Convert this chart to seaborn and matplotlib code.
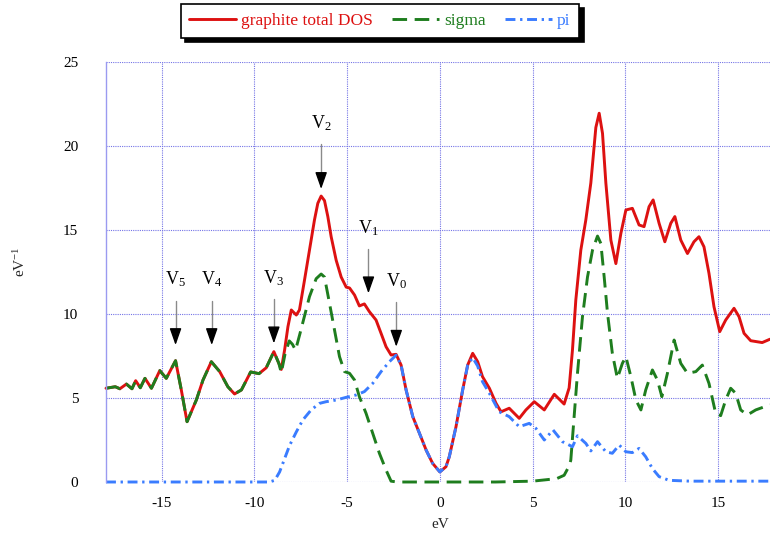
import matplotlib
matplotlib.use("Agg")
import matplotlib.pyplot as plt
import seaborn as sns
import numpy as np

# ---------------- data ----------------
total_e = [-18.0, -17.5, -17.25, -16.9, -16.6, -16.4, -16.15, -15.9, -15.55, -15.1,
           -14.75, -14.25, -13.94, -13.63, -13.13, -12.77, -12.32, -11.87, -11.43, -11.07,
           -10.7, -10.2, -9.75, -9.36, -8.95, -8.68, -8.55, -8.37, -8.19, -8.01,
           -7.74, -7.57, -7.3, -7.03, -6.76, -6.58, -6.4, -6.22, -6.04, -5.86,
           -5.59, -5.32, -5.05, -4.87, -4.6, -4.34, -4.07, -3.8, -3.44, -3.17,
           -2.9, -2.63, -2.36, -2.09, -1.82, -1.46, -1.1, -0.74, -0.39, 0.0,
           0.33, 0.51, 0.87, 1.23, 1.5, 1.77, 2.04, 2.3, 2.67, 3.03,
           3.3, 3.74, 4.28, 4.64, 5.09, 5.63, 6.17, 6.7, 6.97, 7.15,
           7.33, 7.6, 7.87, 8.14, 8.41, 8.59, 8.77, 8.95, 9.22, 9.49,
           9.76, 10.03, 10.38, 10.74, 11.01, 11.28, 11.5, 11.82, 12.13, 12.45,
           12.67, 12.99, 13.35, 13.7, 13.97, 14.24, 14.51, 14.78, 15.09, 15.41,
           15.86, 16.13, 16.4, 16.76, 17.38, 17.8]
total_dos = [5.58, 5.67, 5.55, 5.83, 5.55, 6.03, 5.61, 6.17, 5.58, 6.63,
             6.17, 7.22, 5.48, 3.59, 4.88, 6.07, 7.16, 6.57, 5.67, 5.24,
             5.48, 6.55, 6.45, 6.8, 7.76, 7.06, 6.7, 7.86, 9.25, 10.24,
             9.94, 10.24, 12.0, 13.8, 15.6, 16.59, 17.02, 16.75, 15.8, 14.6,
             13.2, 12.2, 11.6, 11.55, 11.13, 10.48, 10.6, 10.14, 9.64, 8.85,
             8.05, 7.56, 7.6, 6.96, 5.48, 3.89, 2.9, 1.9, 1.11, 0.6,
             0.91, 1.51, 3.29, 5.48, 6.96, 7.66, 7.16, 6.27, 5.58, 4.68,
             4.18, 4.39, 3.79, 4.29, 4.78, 4.29, 5.22, 4.64, 5.6, 7.86,
             10.83, 13.8, 15.6, 17.8, 21.1, 21.95, 20.75, 17.8, 14.4, 13.0,
             14.8, 16.19, 16.29, 15.3, 15.2, 16.39, 16.79, 15.4, 14.3, 15.4,
             15.8, 14.4, 13.6, 14.3, 14.6, 14.0, 12.42, 10.43, 8.95, 9.64,
             10.34, 9.84, 8.85, 8.41, 8.3, 8.5]

sigma_e = [-18.0, -17.5, -17.25, -16.9, -16.6, -16.4, -16.15, -15.9, -15.55, -15.1,
           -14.75, -14.25, -13.94, -13.63, -13.13, -12.77, -12.32, -11.87, -11.43, -11.07,
           -10.7, -10.2, -9.75, -9.36, -8.95, -8.68, -8.55, -8.35, -8.12, -7.95,
           -7.78, -7.55, -7.4, -7.03, -6.67, -6.4, -6.22, -5.95, -5.68, -5.41,
           -5.14, -4.87, -4.6, -4.34, -3.98, -3.62, -3.26, -2.9, -2.63, -2.3,
           0.0, 3.0, 5.0, 6.3, 6.7, 6.97, 7.06, 7.15, 7.24, 7.42,
           7.69, 7.96, 8.23, 8.5, 8.68, 8.86, 9.04, 9.3, 9.57, 9.84,
           10.03, 10.3, 10.57, 10.84, 11.1, 11.46, 11.73, 11.97, 12.27, 12.63,
           12.99, 13.35, 13.8, 14.15, 14.51, 14.87, 15.14, 15.41, 15.68, 15.95,
           16.22, 16.58, 17.03, 17.8]
sigma_dos = [5.58, 5.67, 5.55, 5.83, 5.55, 6.03, 5.61, 6.17, 5.58, 6.63,
             6.17, 7.22, 5.48, 3.59, 4.88, 6.07, 7.16, 6.57, 5.67, 5.24,
             5.48, 6.55, 6.45, 6.8, 7.76, 7.06, 6.5, 7.6, 8.4, 8.2,
             7.85, 8.8, 9.44, 11.03, 12.1, 12.38, 12.2, 10.64, 9.05, 7.46,
             6.57, 6.47, 6.07, 5.08, 4.09, 2.9, 1.71, 0.71, 0.05, 0.0,
             0.0, 0.0, 0.05, 0.2, 0.4, 0.95, 1.3, 2.6, 3.9, 6.47,
             9.84, 12.2, 13.8, 14.64, 14.2, 12.2, 10.04, 7.66, 6.17, 7.06,
             7.46, 6.27, 4.88, 4.29, 5.48, 6.67, 6.07, 5.08, 6.47, 8.45,
             7.06, 6.47, 6.57, 6.96, 5.87, 4.09, 3.95, 4.88, 5.58, 5.28,
             4.29, 3.99, 4.29, 4.6]

pi_e = [-18.0, -9.2, -8.9, -8.64, -8.37, -8.1, -7.74, -7.39, -6.94, -6.49,
        -6.13, -5.59, -5.05, -4.51, -4.07, -3.62, -3.17, -2.72, -2.36, -2.09,
        -1.82, -1.46, -1.1, -0.74, -0.39, 0.0, 0.33, 0.51, 0.87, 1.23,
        1.5, 1.77, 2.04, 2.3, 2.67, 3.2, 3.74, 4.28, 4.82, 5.18,
        5.63, 6.1, 6.61, 7.15, 7.42, 7.87, 8.14, 8.5, 8.95, 9.3,
        9.67, 10.03, 10.38, 10.74, 11.1, 11.46, 11.82, 12.36, 13.5, 17.8]
pi_dos = [0.0, 0.0, 0.1, 0.6, 1.39, 2.18, 2.98, 3.69, 4.29, 4.68,
          4.78, 4.88, 5.04, 5.18, 5.38, 5.87, 6.57, 7.16, 7.55, 6.96,
          5.48, 3.89, 2.9, 1.9, 1.11, 0.6, 0.91, 1.51, 3.29, 5.48,
          6.96, 7.4, 6.9, 5.97, 5.28, 4.18, 3.89, 3.29, 3.49, 3.19,
          2.5, 3.1, 2.4, 2.1, 2.75, 2.3, 1.85, 2.4, 1.8, 1.71,
          2.2, 1.8, 1.75, 2.0, 1.5, 0.8, 0.32, 0.1, 0.05, 0.05]

series_labels = ["graphite total DOS", "sigma", "pi"]
series_colors = ["#dd1111", "#1e7d1e", "#3a7cff"]

peak_labels = ["V$_{5}$", "V$_{4}$", "V$_{3}$", "V$_{2}$", "V$_{1}$", "V$_{0}$"]
peak_energy = [-14.25, -12.3, -8.95, -6.4, -3.85, -2.35]
peak_tip = [8.15, 8.15, 8.25, 17.44, 11.23, 8.05]

x_ticks = [-15, -10, -5, 0, 5, 10, 15]
y_ticks = [0, 5, 10, 15, 20, 25]

# ---------------- style ----------------
sns.set_theme(style="white")
plt.rcParams["font.family"] = ["Liberation Serif", "DejaVu Serif"]
plt.rcParams["mathtext.fontset"] = "custom"
plt.rcParams["mathtext.rm"] = "Liberation Serif"
plt.rcParams["mathtext.it"] = "Liberation Serif:italic"
plt.rcParams["axes.unicode_minus"] = False

W, H = 770, 539
fig = plt.figure(figsize=(W / 100, H / 100), dpi=100)
ax = fig.add_axes([106 / W, 57 / H, 1 - 106 / W, 420 / H])

ax.set_xlim(-18, 17.8)
ax.set_ylim(0, 25)
ax.set_xticks(x_ticks)
ax.set_yticks(y_ticks)
ax.grid(True, color="#7474e6", linestyle=(0, (1, 1)), linewidth=0.8)
ax.set_axisbelow(True)
for s in ["top", "right", "bottom"]:
    ax.spines[s].set_visible(False)
ax.spines["left"].set_color("#9a9af0")
ax.spines["left"].set_linewidth(1.0)
ax.tick_params(axis="both", length=0, labelsize=11, colors="black")
ax.tick_params(axis="x", pad=11)
ax.tick_params(axis="y", pad=20)

sns.lineplot(x=total_e, y=total_dos, ax=ax, color=series_colors[0], linewidth=2.1,
             sort=False, estimator=None)
sns.lineplot(x=sigma_e, y=sigma_dos, ax=ax, color=series_colors[1], linewidth=2.1,
             linestyle=(0, (5.0, 2.6)), sort=False, estimator=None)
sns.lineplot(x=pi_e, y=pi_dos, ax=ax, color=series_colors[2], linewidth=2.1,
             linestyle=(0, (3.4, 1.6, 0.8, 1.6)), sort=False, estimator=None)
lines = ax.get_lines()[-3:]
for ln in lines:
    ln.set_clip_on(False)
    ln.set_solid_joinstyle("round")
    ln.set_dash_joinstyle("round")

ax.set_xlabel("")
ax.set_ylabel("")

# peak annotations
for lab, e, tip in zip(peak_labels, peak_energy, peak_tip):
    start = tip + 2.65
    ax.plot([e, e], [start, tip + 0.3], color="#8a8a8a", linewidth=1.0, zorder=5)
    ax.annotate("", xy=(e, tip), xytext=(e, tip + 0.75),
                arrowprops=dict(arrowstyle="-|>,head_length=0.85,head_width=0.3",
                                color="black", lw=1.0, shrinkA=0, shrinkB=0),
                zorder=6)
    ax.text(e, start + 0.95, lab, ha="center", va="baseline", fontsize=13, color="black")

# axis labels
fig.text(440 / W, 1 - 524 / H, "eV", ha="center", va="center", fontsize=11)
fig.text(20 / W, 1 - 262 / H, r"eV$^{\mathrm{-1}}$", ha="center", va="center",
         rotation=90, fontsize=11)

# legend
leg = fig.legend(lines, series_labels, loc="upper center",
                 bbox_to_anchor=(380 / W, 1 - 4 / H), ncol=3, frameon=True,
                 fancybox=False, edgecolor="black", fontsize=12.5,
                 handlelength=2.7, handletextpad=0.3, columnspacing=1.1,
                 borderpad=0.5, borderaxespad=0,
                 shadow={"color": "black", "alpha": 1.0, "ox": 3, "oy": -3})
leg.get_frame().set_linewidth(1.2)
for txt, ln in zip(leg.get_texts(), leg.get_lines()):
    txt.set_color(ln.get_color())

fig.savefig("out.png", dpi=100)
